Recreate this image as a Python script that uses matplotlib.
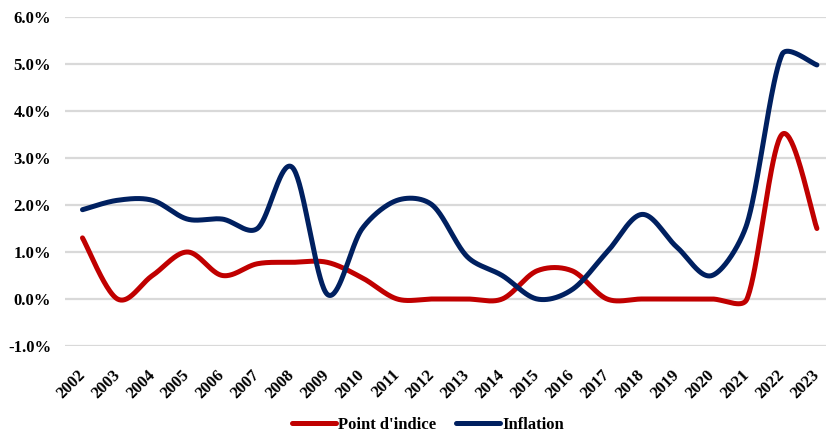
import numpy as np
import matplotlib
matplotlib.use("Agg")
import matplotlib.pyplot as plt

# ================== DATA ==================
years = [str(y) for y in range(2002, 2024)]

point_indice = [1.3, 0.0, 0.5, 1.0, 0.5, 0.75, 0.78, 0.78, 0.45, 0.0, 0.0,
                0.0, 0.0, 0.6, 0.6, 0.0, 0.0, 0.0, 0.0, 0.0, 3.5, 1.5]
inflation = [1.9, 2.1, 2.1, 1.7, 1.7, 1.5, 2.8, 0.1, 1.5, 2.1, 2.0,
             0.9, 0.5, 0.0, 0.2, 1.0, 1.8, 1.1, 0.5, 1.6, 5.2, 4.98]
# ==========================================

RED = "#C00000"
BLUE = "#002060"
GRID = "#D9D9D9"

# pixel size of one category step and of 1 % (used to shape the smoothing)
SX, SY = 34.95, 47.0


def smooth(y, n=40):
    # Catmull-Rom style Bezier, tangents shortened on short segments
    # (screen space), which is roughly what Excel's smoothed line does
    x = np.arange(len(y), dtype=float) * SX
    yy = np.asarray(y, dtype=float) * SY
    P = np.column_stack([x, yy])
    P = np.vstack([P[0], P, P[-1]])
    t = np.linspace(0, 1, n, endpoint=False)[:, None]
    out = []
    for i in range(len(y) - 1):
        p0, p1, p2, p3 = P[i], P[i + 1], P[i + 2], P[i + 3]
        d12 = np.hypot(*(p2 - p1))
        d02 = np.hypot(*(p2 - p0))
        d13 = np.hypot(*(p3 - p1))
        f1 = min(1.0, 2 * d12 / d02) / 6 if d02 > 0 else 0
        f2 = min(1.0, 2 * d12 / d13) / 6 if d13 > 0 else 0
        c1 = p1 + (p2 - p0) * f1
        c2 = p2 - (p3 - p1) * f2
        seg = ((1 - t) ** 3 * p1 + 3 * (1 - t) ** 2 * t * c1
               + 3 * (1 - t) * t ** 2 * c2 + t ** 3 * p2)
        out.append(seg)
    out.append(P[-1][None, :])
    out = np.vstack(out)
    return out[:, 0] / SX, out[:, 1] / SY


plt.rcParams["font.family"] = ["Liberation Serif", "DejaVu Serif"]
plt.rcParams["font.weight"] = "bold"

fig = plt.figure(figsize=(8.26, 4.34), dpi=100)
ax = fig.add_axes([65 / 826, 88 / 434, 761 / 826, 329 / 434])

xr, yr = smooth(point_indice)
xb, yb = smooth(inflation)
ax.plot(xr, yr, color=RED, lw=3.6, solid_capstyle="round", label="Point d'indice", zorder=3)
ax.plot(xb, yb, color=BLUE, lw=3.6, solid_capstyle="round", label="Inflation", zorder=3)

ax.set_ylim(-1, 6)
ax.set_xlim(-0.5, 21.26)
ax.set_yticks(np.arange(-1, 7, 1))
ax.set_yticklabels([f"{v:.1f}%" for v in np.arange(-1, 7, 1)], fontsize=12, fontweight="bold")
ax.set_xticks(range(len(years)))
ax.set_xticklabels(years, rotation=45, ha="right", va="center", rotation_mode="anchor",
                   fontsize=12, fontweight="bold")
ax.tick_params(axis="both", length=0)
ax.tick_params(axis="x", pad=19)
ax.tick_params(axis="y", pad=10)

ax.grid(axis="y", color=GRID, lw=1.6)
ax.set_axisbelow(True)
for s in ax.spines.values():
    s.set_visible(False)

fig.legend(loc="center", bbox_to_anchor=(428 / 826, 1 - 425 / 434), ncol=2,
           frameon=False, handlelength=2.6, handletextpad=0.15, columnspacing=1.2,
           prop={"size": 12, "weight": "bold"})

fig.savefig("out.png", dpi=100)
